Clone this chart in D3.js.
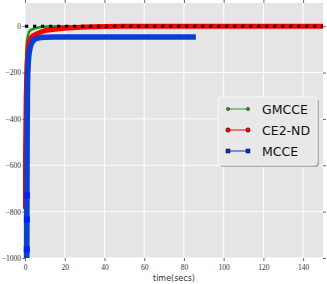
<!DOCTYPE html>
<html lang="en">
<head>
<meta charset="UTF-8">
<title>Cost vs time</title>
<script src="https://d3js.org/d3.v7.min.js"></script>
<style>
  body { margin: 0; background: #fff; }
  .tick text { font-family: "Liberation Serif", "DejaVu Serif", serif; font-size: 7.5px; fill: #333; }
</style>
</head>
<body>
<div id="chart"></div>
<script>
// series values
const gmcceT = [0, 0.1, 0.2, 0.4, 0.6, 0.8, 1, 1.5, 2, 3, 5, 8, 12, 20, 150];
const gmcceV = [-1000, -600, -380, -220, -140, -90, -60, -40, -25, -16, -9, -4, -1, 0, 0];
const ce2T = [0, 0.3, 0.6, 1, 1.5, 2, 3, 4, 6, 8, 10, 15, 20, 30, 40, 50, 150];
const ce2V = [-780, -520, -300, -170, -100, -70, -50, -42, -33, -25, -19, -13, -9, -4, -1, 0, 0];
const mcceT = [0.9, 0.95, 1, 1.1, 1.2, 1.4, 1.7, 2, 2.5, 3, 4, 5, 6, 8, 10, 15, 86];
const mcceV = [-1000, -900, -700, -450, -300, -200, -150, -120, -95, -80, -64, -56, -52, -49, -48, -47, -47];
const mcceMarkT = [0.9, 0.95, 1.0];
const mcceMarkV = [-963, -834, -730];
const optT = [0, 150];
const optV = [0, 0];
const xTicks = [0, 20, 40, 60, 80, 100, 120, 140];
const yTicks = [0, -200, -400, -600, -800, -1000];
const legendNames = ["GMCCE", "CE2-ND", "MCCE"];
const legendColors = ["#22a022", "#ff0000", "#0033dd"];

const width = 327, height = 284;
const m = { left: 25, right: 4, top: 3, bottom: 26 };

const svg = d3.select("#chart").append("svg")
  .attr("width", width).attr("height", height);

const x = d3.scaleLinear().domain([0, 150]).range([m.left, width - m.right]);
const y = d3.scaleLinear().domain([-1000, 100]).range([height - m.bottom, m.top]);

// panel
svg.append("rect")
  .attr("x", x(0)).attr("y", y(100))
  .attr("width", x(150) - x(0)).attr("height", y(-1000) - y(100))
  .attr("fill", "#e5e5e5");

// grid
svg.append("g").selectAll("line").data(xTicks).join("line")
  .attr("x1", d => x(d)).attr("x2", d => x(d))
  .attr("y1", y(100)).attr("y2", y(-1000))
  .attr("stroke", "#fff").attr("stroke-width", 1);
svg.append("g").selectAll("line").data(yTicks).join("line")
  .attr("x1", x(0)).attr("x2", x(150))
  .attr("y1", d => y(d)).attr("y2", d => y(d))
  .attr("stroke", "#fff").attr("stroke-width", 1);

// axes
const fmt = d => d < 0 ? "\u2212" + Math.abs(d) : String(d);
const styleAxis = g => {
  g.select(".domain").remove();
  g.selectAll(".tick line").attr("stroke", "#666");
};
svg.append("g").attr("transform", `translate(0,${y(-1000)})`)
  .call(d3.axisBottom(x).tickValues(xTicks).tickFormat(fmt).tickSize(3).tickPadding(4))
  .call(styleAxis);
svg.append("g").attr("transform", `translate(${x(0)},0)`)
  .call(d3.axisLeft(y).tickValues(yTicks).tickFormat(fmt).tickSize(2.5).tickPadding(1.5))
  .call(styleAxis);
svg.append("g").attr("transform", `translate(0,${y(100)})`)
  .call(d3.axisTop(x).tickValues(xTicks).tickFormat("").tickSize(3))
  .call(styleAxis);
svg.append("g").attr("transform", `translate(${x(150)},0)`)
  .call(d3.axisRight(y).tickValues(yTicks).tickFormat("").tickSize(3))
  .call(styleAxis);

// clip to panel
svg.append("clipPath").attr("id", "clip").append("rect")
  .attr("x", x(0) - 2).attr("y", y(100))
  .attr("width", x(150) - x(0) + 2).attr("height", y(-1000) - y(100));

const plot = svg.append("g").attr("clip-path", "url(#clip)");
const line = d3.line().x(d => x(d[0])).y(d => y(d[1]));
const zip = (a, b) => a.map((t, i) => [t, b[i]]);

plot.append("path").datum(zip(gmcceT, gmcceV))
  .attr("d", line).attr("fill", "none")
  .attr("stroke", "#1a9a1a").attr("stroke-width", 2.5);

plot.append("path").datum(zip(ce2T, ce2V))
  .attr("d", line).attr("fill", "none")
  .attr("stroke", "#ff0000").attr("stroke-width", 5);
plot.append("circle")
  .attr("cx", x(ce2T[0])).attr("cy", y(ce2V[0])).attr("r", 2.5).attr("fill", "#ff0000");

plot.append("path").datum(zip(mcceT, mcceV))
  .attr("d", line).attr("fill", "none")
  .attr("stroke", "#0a3fd0").attr("stroke-width", 5.5);
plot.selectAll(".mk").data(zip(mcceMarkT, mcceMarkV)).join("rect")
  .attr("x", d => x(d[0]) - 3).attr("y", d => y(d[1]) - 3)
  .attr("width", 6).attr("height", 6).attr("fill", "#0022ff");

plot.append("path").datum(zip(optT, optV))
  .attr("d", line).attr("fill", "none")
  .attr("stroke", "#000").attr("stroke-width", 3)
  .attr("stroke-dasharray", "3.3,4.7");

// x label
svg.append("text")
  .attr("x", (x(0) + x(150)) / 2).attr("y", 281)
  .attr("text-anchor", "middle")
  .style("font-family", "DejaVu Sans, sans-serif").style("font-size", "8px").style("fill", "#333")
  .text("time(secs)");

// legend
const lg = svg.append("g").attr("transform", "translate(218,97)");
lg.append("rect").attr("x", 2).attr("y", 2).attr("width", 99).attr("height", 68)
  .attr("rx", 3).attr("fill", "#b0b0b0");
lg.append("rect").attr("width", 99).attr("height", 68).attr("rx", 3)
  .attr("fill", "#e8e8e8").attr("stroke", "#f8f8f8").attr("stroke-width", 1);
const items = lg.selectAll(".item").data(legendNames).join("g")
  .attr("transform", (d, i) => `translate(0,${12 + i * 21})`);
items.append("line").attr("x1", 9).attr("x2", 31)
  .attr("stroke", (d, i) => legendColors[i]).attr("stroke-width", 1);
items.each(function(d, i) {
  const g = d3.select(this);
  [10, 30].forEach(cx => {
    if (i === 2) {
      g.append("rect").attr("x", cx - 2).attr("y", -2).attr("width", 4).attr("height", 4)
        .attr("fill", legendColors[i]).attr("stroke", "#002").attr("stroke-width", 0.5);
    } else {
      g.append("circle").attr("cx", cx).attr("cy", 0).attr("r", i === 0 ? 1.6 : 2.2)
        .attr("fill", legendColors[i]).attr("stroke", "#200").attr("stroke-width", 0.5);
    }
  });
});
items.append("text").attr("x", 44).attr("y", 4.5)
  .style("font-family", "DejaVu Sans, sans-serif").style("font-size", "12.5px").style("fill", "#111")
  .text(d => d);
</script>
</body>
</html>
